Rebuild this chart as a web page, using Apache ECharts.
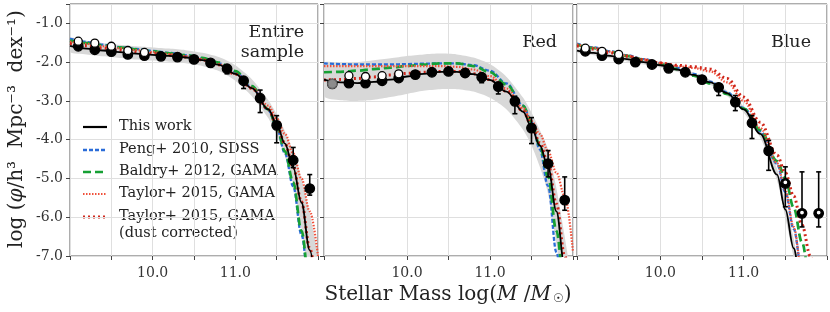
<!DOCTYPE html>
<html><head><meta charset="utf-8">
<script src="https://cdn.jsdelivr.net/npm/echarts@6/dist/echarts.min.js"></script>
<style>html,body{margin:0;padding:0;background:#fff}#c{width:830px;height:312px}</style>
</head><body><div id="c"></div>
<script>
// ---- data ----
const panelTitles = ['Entire\nsample', 'Red', 'Blue'];
const xTickLabels = [10.0, 11.0];
const yTickLabels = [-7, -6, -5, -4, -3, -2, -1];
const legendNames = ['This work', 'Peng+ 2010, SDSS', 'Baldry+ 2012, GAMA', 'Taylor+ 2015, GAMA', 'Taylor+ 2015, GAMA\n(dust corrected)'];

const curveMass = [9.0, 9.2, 9.4, 9.6, 9.8, 10.0, 10.2, 10.4, 10.6, 10.8, 11.0, 11.2, 11.4, 11.5, 11.6, 11.7, 11.8, 11.9, 12.0];

// Entire sample
const entireThisWork = [-1.58,-1.65,-1.70,-1.74,-1.78,-1.81,-1.84,-1.88,-1.95,-2.07,-2.30,-2.67,-3.22,-3.60,-4.10,-4.72,-5.62,-6.85,-8.4];
const entirePeng     = [-1.39,-1.48,-1.55,-1.61,-1.66,-1.71,-1.76,-1.82,-1.90,-2.03,-2.26,-2.64,-3.24,-3.68,-4.35,-5.20,-6.45,-7.9,-9.5];
const entireBaldry   = [-1.44,-1.51,-1.57,-1.62,-1.67,-1.72,-1.77,-1.82,-1.89,-2.01,-2.23,-2.62,-3.22,-3.65,-4.30,-5.10,-6.35,-7.8,-9.5];
const entireTaylor   = [-1.47,-1.53,-1.59,-1.64,-1.69,-1.74,-1.79,-1.85,-1.93,-2.06,-2.30,-2.66,-3.12,-3.45,-3.85,-4.35,-5.00,-5.85,-7.0];
const entireTaylorDust = [-1.52,-1.58,-1.64,-1.69,-1.74,-1.78,-1.82,-1.87,-1.94,-2.07,-2.31,-2.68,-3.22,-3.62,-4.10,-4.70,-5.60,-6.80,-8.3];
const entireBandHi   = [-1.38,-1.45,-1.51,-1.55,-1.59,-1.62,-1.65,-1.69,-1.76,-1.87,-2.08,-2.44,-2.98,-3.34,-3.78,-4.30,-5.00,-5.90,-7.1];
const entireBandLo   = [-1.74,-1.80,-1.85,-1.89,-1.93,-1.96,-1.99,-2.03,-2.10,-2.23,-2.48,-2.88,-3.45,-3.88,-4.42,-5.15,-6.30,-7.8,-9.5];

// Red
const redThisWork = [-2.45,-2.52,-2.54,-2.51,-2.45,-2.37,-2.30,-2.25,-2.25,-2.31,-2.46,-2.76,-3.28,-3.68,-4.15,-4.70,-5.85,-7.3,-9.0];
const redPeng     = [-2.03,-2.05,-2.06,-2.06,-2.06,-2.05,-2.04,-2.03,-2.03,-2.08,-2.22,-2.55,-3.12,-3.55,-4.25,-5.20,-6.90,-8.5,-10];
const redBaldry   = [-2.26,-2.25,-2.22,-2.18,-2.14,-2.10,-2.06,-2.03,-2.03,-2.10,-2.26,-2.58,-3.13,-3.55,-4.15,-4.95,-6.35,-7.9,-9.5];
const redTaylor   = [-2.10,-2.10,-2.10,-2.10,-2.10,-2.10,-2.10,-2.10,-2.12,-2.19,-2.36,-2.68,-3.18,-3.52,-3.85,-4.30,-4.85,-5.45,-6.9];
const redTaylorDust = [-2.46,-2.45,-2.42,-2.38,-2.33,-2.29,-2.26,-2.24,-2.24,-2.30,-2.45,-2.75,-3.26,-3.64,-4.08,-4.62,-5.65,-7.0,-8.5];
const redBandHi   = [-2.02,-2.03,-2.00,-1.95,-1.90,-1.84,-1.80,-1.78,-1.80,-1.88,-2.05,-2.38,-2.92,-3.30,-3.75,-4.25,-5.25,-6.5,-8.0];
const redBandLo   = [-2.88,-2.98,-3.00,-2.97,-2.90,-2.82,-2.74,-2.70,-2.70,-2.76,-2.92,-3.22,-3.75,-4.15,-4.70,-5.40,-6.70,-8.3,-10];

// Blue
const blueThisWork = [-1.70,-1.76,-1.84,-1.92,-2.00,-2.08,-2.19,-2.33,-2.52,-2.80,-3.22,-3.85,-4.90,-5.80,-6.80,-8.0,-9.5,-11,-13];
const bluePeng     = [-1.52,-1.62,-1.72,-1.82,-1.92,-2.02,-2.14,-2.30,-2.50,-2.78,-3.18,-3.78,-4.62,-5.35,-6.30,-7.4,-9.0,-11,-13];
const blueBaldry   = [-1.55,-1.64,-1.74,-1.84,-1.94,-2.05,-2.18,-2.35,-2.55,-2.82,-3.20,-3.75,-4.55,-5.00,-5.75,-6.65,-7.7,-9.0,-11];
const blueTaylor   = [-1.54,-1.63,-1.73,-1.83,-1.93,-2.02,-2.10,-2.15,-2.24,-2.52,-3.00,-3.70,-4.60,-5.30,-6.25,-7.4,-9.0,-11,-13];
const blueTaylorDust = [-1.58,-1.66,-1.76,-1.85,-1.94,-2.02,-2.08,-2.12,-2.18,-2.42,-2.90,-3.55,-4.40,-4.85,-5.45,-6.20,-7.0,-8.0,-9.5];
const blueBandHi   = [-1.64,-1.70,-1.78,-1.86,-1.94,-2.02,-2.13,-2.27,-2.46,-2.73,-3.14,-3.75,-4.75,-5.60,-6.55,-7.7,-9.0,-11,-13];
const blueBandLo   = [-1.76,-1.82,-1.90,-1.98,-2.06,-2.14,-2.25,-2.39,-2.58,-2.87,-3.30,-3.95,-5.05,-6.00,-7.05,-8.3,-10,-12,-14];

// measured points
const pointMass = [9.1, 9.3, 9.5, 9.7, 9.9, 10.1, 10.3, 10.5, 10.7, 10.9, 11.1, 11.3, 11.5, 11.7, 11.9];
const entirePts   = [-1.59,-1.68,-1.73,-1.80,-1.83,-1.85,-1.87,-1.93,-2.02,-2.17,-2.48,-2.93,-3.63,-4.53,-5.26];
const entireErrLo = [-1.63,-1.71,-1.76,-1.82,-1.85,-1.87,-1.89,-1.95,-2.05,-2.30,-2.68,-3.30,-4.08,-4.72,-5.43];
const entireErrHi = [-1.55,-1.65,-1.70,-1.78,-1.81,-1.83,-1.85,-1.91,-1.99,-2.10,-2.38,-2.72,-3.38,-4.20,-4.90];
const redPts   = [-2.56,-2.54,-2.54,-2.48,-2.41,-2.32,-2.26,-2.24,-2.28,-2.39,-2.63,-3.01,-3.70,-4.62,-5.56];
const redErrLo = [-2.60,-2.58,-2.57,-2.51,-2.44,-2.35,-2.29,-2.27,-2.31,-2.53,-2.82,-3.33,-4.10,-4.96,-5.82];
const redErrHi = [-2.52,-2.50,-2.51,-2.45,-2.38,-2.29,-2.23,-2.21,-2.25,-2.31,-2.52,-2.88,-3.43,-4.28,-4.96];
const bluePts   = [-1.72,-1.83,-1.92,-2.00,-2.06,-2.16,-2.26,-2.45,-2.65,-3.03,-3.57,-4.29,-5.13,-5.90,-5.90];
const blueErrLo = [-1.75,-1.86,-1.95,-2.03,-2.09,-2.19,-2.29,-2.50,-2.86,-3.25,-3.97,-4.79,-5.73,-6.25,-6.25];
const blueErrHi = [-1.69,-1.80,-1.89,-1.97,-2.03,-2.13,-2.23,-2.40,-2.56,-2.86,-3.38,-4.02,-4.70,-4.83,-4.83];

// open (uncorrected) points
const entireOpenMass = [9.1, 9.3, 9.5, 9.7, 9.9];
const entireOpenPts  = [-1.46,-1.51,-1.59,-1.70,-1.75];
const redOpenMass = [9.3, 9.5, 9.7, 9.9];
const redOpenPts  = [-2.35,-2.37,-2.35,-2.30];
const redGreyMass = [9.1];
const redGreyPts  = [-2.56];
const blueOpenMass = [9.1, 9.3, 9.5];
const blueOpenPts  = [-1.64,-1.72,-1.80];
const blueOpenTailMass = [11.5, 11.7, 11.9];
const blueOpenTailPts  = [-5.10,-5.88,-5.88];

// ---- chart ----
const FONT = "'DejaVu Serif', 'Liberation Serif', serif";
const C_BLACK = '#000000', C_BLUE = '#2a6cd8', C_GREEN = '#16a034', C_RED1 = '#f0503a', C_RED2 = '#d0261a';
const grids = [
  {left: 70, top: 4, width: 248, height: 252},
  {left: 324, top: 4, width: 249, height: 252},
  {left: 577, top: 4, width: 250, height: 252}
].map(g => Object.assign({show: true, borderColor: '#5a5a5a', borderWidth: 1, backgroundColor: 'transparent'}, g));

const zip = (xs, ys) => xs.map((x, i) => [x, ys[i]]);

function lineS(gi, ys, color, width, type, z) {
  return {type: 'line', xAxisIndex: gi, yAxisIndex: gi, data: zip(curveMass, ys), showSymbol: false,
    smooth: 0.35, smoothMonotone: 'x', clip: true, silent: true, z: z,
    lineStyle: {color: color, width: width, type: type, cap: 'butt'}};
}
function bandS(gi, hi, lo) {
  return {type: 'custom', xAxisIndex: gi, yAxisIndex: gi, silent: true, z: 1,
    data: [[curveMass[0], hi[0]]],
    renderItem: (params, api) => {
      const pts = [];
      curveMass.forEach((x, i) => pts.push(api.coord([x, hi[i]])));
      for (let i = curveMass.length - 1; i >= 0; i--) pts.push(api.coord([curveMass[i], lo[i]]));
      const cs = params.coordSys;
      return {type: 'polygon', shape: {points: pts, smooth: 0.25}, style: {fill: '#d8d8d8', stroke: null},
        clipPath: {type: 'rect', shape: {x: cs.x, y: cs.y, width: cs.width, height: cs.height}}};
    }};
}
function errS(gi, lo, hi) {
  return {type: 'custom', xAxisIndex: gi, yAxisIndex: gi, silent: true, z: 5,
    data: pointMass.map((x, i) => [x, lo[i], hi[i]]), encode: {x: 0, y: [1, 2]},
    renderItem: (params, api) => {
      const x = api.value(0);
      const a = api.coord([x, api.value(1)]), b = api.coord([x, api.value(2)]);
      const w = 2.5, st = {stroke: '#000', lineWidth: 1.6};
      return {type: 'group', children: [
        {type: 'line', shape: {x1: a[0], y1: a[1], x2: b[0], y2: b[1]}, style: st},
        {type: 'line', shape: {x1: a[0] - w, y1: a[1], x2: a[0] + w, y2: a[1]}, style: st},
        {type: 'line', shape: {x1: b[0] - w, y1: b[1], x2: b[0] + w, y2: b[1]}, style: st}
      ]};
    }};
}
function ptsS(gi, xs, ys, fill, border, size, z, bw) {
  return {type: 'scatter', xAxisIndex: gi, yAxisIndex: gi, data: zip(xs, ys), symbol: 'circle', symbolSize: size,
    silent: true, z: z, itemStyle: {color: fill, borderColor: border, borderWidth: bw === undefined ? 1.3 : bw, opacity: 1}};
}

const panels = [
  {tw: entireThisWork, pe: entirePeng, ba: entireBaldry, ta: entireTaylor, td: entireTaylorDust, hi: entireBandHi, lo: entireBandLo,
   pts: entirePts, elo: entireErrLo, ehi: entireErrHi, om: entireOpenMass, op: entireOpenPts},
  {tw: redThisWork, pe: redPeng, ba: redBaldry, ta: redTaylor, td: redTaylorDust, hi: redBandHi, lo: redBandLo,
   pts: redPts, elo: redErrLo, ehi: redErrHi, om: redOpenMass, op: redOpenPts},
  {tw: blueThisWork, pe: bluePeng, ba: blueBaldry, ta: blueTaylor, td: blueTaylorDust, hi: blueBandHi, lo: blueBandLo,
   pts: bluePts, elo: blueErrLo, ehi: blueErrHi, om: blueOpenMass, op: blueOpenPts}
];

const series = [];
panels.forEach((p, gi) => {
  series.push(bandS(gi, p.hi, p.lo));
  series.push(lineS(gi, p.pe, C_BLUE, 2.3, [4, 2], 2));
  series.push(lineS(gi, p.ba, C_GREEN, 2.7, [8, 4], 2));
  series.push(lineS(gi, p.ta, C_RED1, 2.2, [1.5, 1.5], 2));
  series.push(lineS(gi, p.td, C_RED2, 3, [2, 3], 2));
  series.push(lineS(gi, p.tw, C_BLACK, 1.8, 'solid', 3));
  series.push(errS(gi, p.elo, p.ehi));
  series.push(ptsS(gi, pointMass, p.pts, '#000', '#000', 9.5, 6));
  series.push(ptsS(gi, p.om, p.op, '#fff', '#000', 8, 7));
});
series.push(ptsS(1, redGreyMass, redGreyPts, '#8c8c8c', '#6a6a6a', 9, 8));
series.push(ptsS(2, blueOpenTailMass, blueOpenTailPts, '#fff', '#000', 5, 8, 1.2));

const xAxis = [0, 1, 2].map(gi => ({
  gridIndex: gi, type: 'value', min: 9, max: 12, interval: 0.5,
  axisLine: {show: false},
  axisTick: {show: true, length: 4, lineStyle: {color: '#444', width: 1}},
  splitLine: {show: true, lineStyle: {color: '#dfdfdf', width: 1}},
  axisLabel: {fontFamily: FONT, fontSize: 14, color: '#333', margin: 10,
    formatter: v => xTickLabels.some(t => Math.abs(t - v) < 1e-9) ? v.toFixed(1) : ''}
}));
const yAxis = [0, 1, 2].map(gi => ({
  gridIndex: gi, type: 'value', min: -7, max: -0.5, interval: 1,
  axisLine: {show: false},
  axisTick: {show: true, length: 4, lineStyle: {color: '#444', width: 1}},
  splitLine: {show: true, lineStyle: {color: '#dfdfdf', width: 1}},
  axisLabel: {show: gi === 0, fontFamily: FONT, fontSize: 14, color: '#333', margin: 7,
    formatter: v => yTickLabels.some(t => Math.abs(t - v) < 1e-9) ? v.toFixed(1) : ''}
}));

// legend (panel 1) and texts
const legendStyles = [
  {color: C_BLACK, w: 2.2, dash: null},
  {color: C_BLUE, w: 2.3, dash: [4, 2]},
  {color: C_GREEN, w: 2.7, dash: [8, 4]},
  {color: C_RED1, w: 2.2, dash: [1.5, 1.5]},
  {color: C_RED2, w: 3, dash: [2, 3]}
];
const legendRowY = [127, 150, 172, 194, 217];
const graphic = [];
legendNames.forEach((name, i) => {
  const y = legendRowY[i];
  graphic.push({type: 'line', shape: {x1: 83, y1: y, x2: 107, y2: y}, silent: true,
    style: {stroke: legendStyles[i].color, lineWidth: legendStyles[i].w, lineDash: legendStyles[i].dash}});
  graphic.push({type: 'text', x: 119, y: y - 9, silent: true,
    style: {text: name, font: '14.5px ' + FONT, fill: '#222', textVerticalAlign: 'top', lineHeight: 17}});
});
const titleRight = [304, 557, 811];
panelTitles.forEach((t, i) => {
  graphic.push({type: 'text', x: titleRight[i], y: i === 0 ? 22 : 32, silent: true,
    style: {text: t, font: '17.5px ' + FONT, fill: '#222', textAlign: 'right', textVerticalAlign: 'top', lineHeight: 20}});
});
graphic.push({type: 'text', x: 448, y: 292, silent: true,
  style: {text: '{n|Stellar Mass log(}{i|M}{n| /}{i|M}{s|☉}{n|)}', textAlign: 'center', textVerticalAlign: 'middle',
    rich: {n: {fontFamily: FONT, fontSize: 20, fill: '#222', lineHeight: 26, verticalAlign: 'bottom'},
           i: {fontFamily: FONT, fontSize: 20, fontStyle: 'italic', fill: '#222', lineHeight: 26, verticalAlign: 'bottom'},
           s: {fontFamily: "'DejaVu Sans', sans-serif", fontSize: 12, fill: '#222', lineHeight: 10, verticalAlign: 'bottom', padding: [0, 0, 0, 2]}}}});
graphic.push({type: 'text', x: 17, y: 129, rotation: Math.PI / 2, silent: true,
  style: {text: '{n|log (}{i|φ}{n|/h³  Mpc⁻³  dex⁻¹)}', textAlign: 'center', textVerticalAlign: 'middle',
    rich: {n: {fontFamily: FONT, fontSize: 20, fill: '#222'},
           i: {fontFamily: FONT, fontSize: 20, fontStyle: 'italic', fill: '#222'}}}});

const chart = echarts.init(document.getElementById('c'), null, {renderer: 'canvas'});
chart.setOption({animation: false, backgroundColor: '#fff', grid: grids, xAxis: xAxis, yAxis: yAxis, series: series, graphic: graphic});
</script></body></html>
